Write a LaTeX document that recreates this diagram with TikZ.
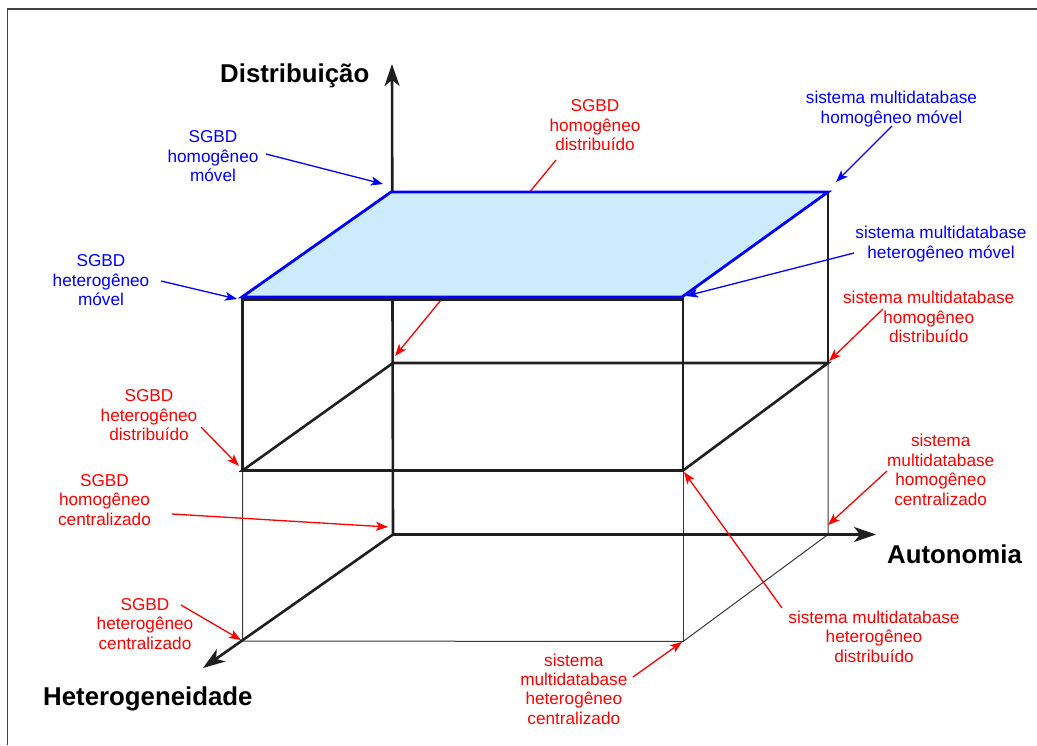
\documentclass[tikz,border=0pt]{standalone}
\usepackage{fontspec}
\setmainfont{Liberation Sans}
\usetikzlibrary{arrows.meta}

\definecolor{planefill}{RGB}{204,235,252}
\definecolor{framegray}{RGB}{64,64,64}
\newcommand\lblfont{\fontsize{17.2}{19.4}\selectfont}
\newcommand\axfont{\fontsize{25.8}{30}\selectfont\bfseries}

% multi-line labels are placed by the baseline of their last line
\tikzset{
  thickline/.style={line width=2.6pt, draw=black!88},
  thinline/.style={line width=1pt, draw=black!78},
  axisline/.style={line width=2.6pt, draw=black!88, -{Stealth[length=22pt,width=15pt,inset=6pt]}},
  axislbl/.style={font=\axfont, inner sep=0pt, anchor=base west},
  bluelbl/.style={text=blue, font=\lblfont, align=center, inner sep=0pt, anchor=base},
  redlbl/.style={text=red, font=\lblfont, align=center, inner sep=0pt, anchor=base},
  bluepointer/.style={draw=blue, line width=1.3pt, -{Stealth[length=12pt,width=9pt,inset=3pt]}},
  redpointer/.style={draw=red, line width=1.3pt, -{Stealth[length=12pt,width=9pt,inset=3pt]}},
}

\begin{document}
\begin{tikzpicture}[x=1pt, y=-1pt]
\useasboundingbox (0,0) rectangle (1037,745);

% outer frame (top and left edges)
\draw[framegray, line width=1.3pt] (7.5,745) -- (7.5,9) -- (1037,9);

% corners of the cube
\coordinate (O)   at (393,534.5);   % origin
\coordinate (Dtip) at (392,64);
\coordinate (Atip) at (876,534.5);
\coordinate (Htip) at (203,668);
\coordinate (FBL) at (242.5,641);
\coordinate (FBR) at (683,641.5);
\coordinate (BBR) at (828,534.5);
\coordinate (BML) at (393,363);
\coordinate (BMR) at (828,363);
\coordinate (FML) at (242.5,470.5);
\coordinate (FMR) at (683,470.5);
\coordinate (BTR) at (828,192);
\coordinate (FTL) at (242.5,299.5);
\coordinate (FTR) at (683,299.5);
% top plane
\coordinate (PA) at (391,192);
\coordinate (PB) at (828,192);
\coordinate (PC) at (682,297);
\coordinate (PD) at (242,297);

% thin lower frame
\draw[thinline] (FML) -- (FBL) -- (FBR) -- (BBR) -- (BMR);
\draw[thinline] (FMR) -- (FBR);

% red pointer that passes under the top plane
\node[redlbl] (l5) at (595,150.7) {SGBD\\homogêneo\\distribuído};
\coordinate (s5) at (556,160);
\coordinate (e5) at (395,356);
\draw[redpointer] (s5) -- (e5);

% axes
\draw[axisline] (O) -- (Dtip);
\draw[axisline] (O) -- (Atip);
\draw[axisline] (O) -- (Htip);

% middle level and upper box
\draw[thickline] (BML) -- (BMR) -- (FMR) -- (FML) -- cycle;
\draw[thickline] (FML) -- (FTL) -- (FTR) -- (FMR);
\draw[thickline] (BMR) -- (BTR);

% top plane
\draw[draw=blue, line width=2.8pt, fill=planefill, line join=miter]
  (PA) -- (PB) -- (PC) -- (PD) -- cycle;

% axis titles
\node[axislbl] (td) at (220,82.7) {Distribuição};
\node[axislbl] (ta) at (887,563) {Autonomia};
\node[axislbl] (th) at (43,705) {Heterogeneidade};

% blue labels
\node[bluelbl] (l1) at (213,181.7) {SGBD\\homogêneo\\móvel};
\node[bluelbl] (l2) at (101,305.7) {SGBD\\heterogêneo\\móvel};
\node[bluelbl] (l3) at (891.5,123.3) {sistema multidatabase\\homogêneo móvel};
\node[bluelbl] (l4) at (941,258.3) {sistema multidatabase\\heterogêneo móvel};

\coordinate (s1) at (266,154);   \coordinate (e1) at (383,184);
\coordinate (s2) at (161,281);   \coordinate (e2) at (237,299);
\coordinate (s3) at (892,126);   \coordinate (e3) at (836,182);
\coordinate (s4) at (854,253);   \coordinate (e4) at (686,296);
\draw[bluepointer] (s1) -- (e1);
\draw[bluepointer] (s2) -- (e2);
\draw[bluepointer] (s3) -- (e3);
\draw[bluepointer] (s4) -- (e4);

% red labels
\node[redlbl] (l6) at (928.7,342.7) {sistema multidatabase\\homogêneo\\distribuído};
\node[redlbl] (l7) at (149,440.7) {SGBD\\heterogêneo\\distribuído};
\node[redlbl] (l8) at (104.5,525) {SGBD\\homogêneo\\centralizado};
\node[redlbl] (l9) at (145,649) {SGBD\\heterogêneo\\centralizado};
\node[redlbl] (l10) at (940.7,505) {sistema\\multidatabase\\homogêneo\\centralizado};
\node[redlbl] (l11) at (874,662) {sistema multidatabase\\heterogêneo\\distribuído};
\node[redlbl] (l12) at (573.8,724.3) {sistema\\multidatabase\\heterogêneo\\centralizado};

\coordinate (s6) at (883,309);   \coordinate (e6) at (829,361);
\coordinate (s7) at (201,427);   \coordinate (e7) at (239,466);
\coordinate (s8) at (172,514);   \coordinate (e8) at (388,527);
\coordinate (s9) at (181,605);   \coordinate (e9) at (241,640);
\coordinate (s10) at (887,471);  \coordinate (e10) at (828,525);
\coordinate (s11) at (782,608);  \coordinate (e11) at (684,472);
\coordinate (s12) at (633,677);  \coordinate (e12) at (682,642);
\draw[redpointer] (s6) -- (e6);
\draw[redpointer] (s7) -- (e7);
\draw[redpointer] (s8) -- (e8);
\draw[redpointer] (s9) -- (e9);
\draw[redpointer] (s10) -- (e10);
\draw[redpointer] (s11) -- (e11);
\draw[redpointer] (s12) -- (e12);
\end{tikzpicture}
\end{document}
